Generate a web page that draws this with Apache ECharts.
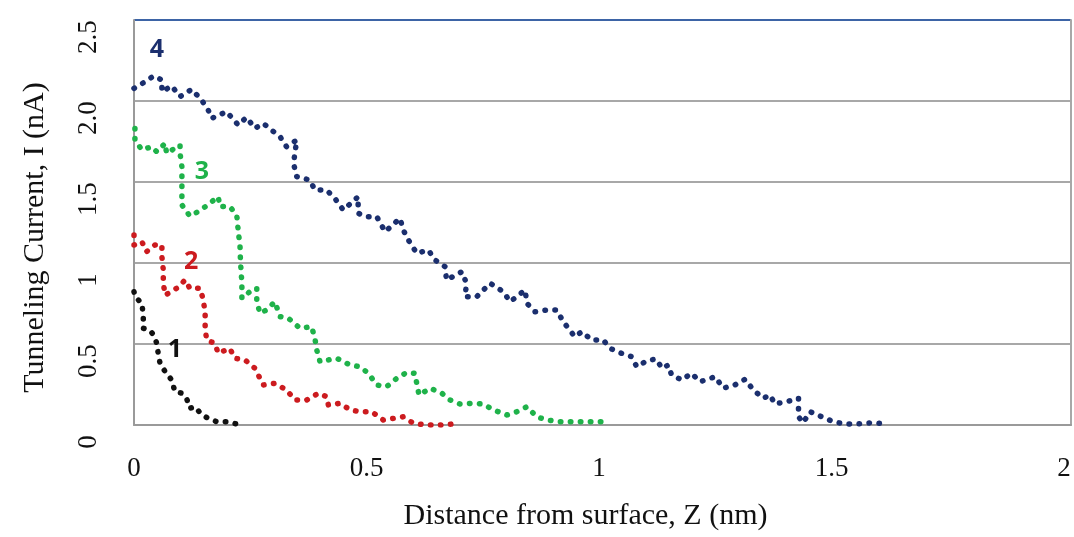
<!DOCTYPE html>
<html>
<head>
<meta charset="utf-8">
<script src="https://cdn.jsdelivr.net/npm/echarts@6/dist/echarts.min.js"></script>
<style>
  html, body { margin: 0; padding: 0; background: #fff; }
  #chart { width: 1074px; height: 537px; }
</style>
</head>
<body>
<div id="chart"></div>
<script>
// data: [Z (nm), I (nA)]
var curve1 = [[0.000, 0.823], [0.002, 0.792], [0.017, 0.751], [0.020, 0.669], [0.020, 0.597], [0.034, 0.586],
    [0.042, 0.556], [0.049, 0.504], [0.052, 0.443], [0.056, 0.381], [0.067, 0.329], [0.081, 0.278],
    [0.088, 0.206], [0.103, 0.196], [0.113, 0.165], [0.120, 0.103], [0.131, 0.113], [0.146, 0.062],
    [0.160, 0.041], [0.178, 0.020], [0.199, 0.020], [0.221, 0.006]];

var curve2 = [[0.000, 1.173], [0.000, 1.111], [0.017, 1.131], [0.027, 1.070], [0.045, 1.111], [0.060, 1.111],
    [0.060, 1.039], [0.063, 0.957], [0.063, 0.875], [0.067, 0.802], [0.092, 0.844], [0.110, 0.895],
    [0.120, 0.844], [0.142, 0.844], [0.149, 0.772], [0.153, 0.690], [0.153, 0.607], [0.156, 0.525],
    [0.174, 0.504], [0.181, 0.443], [0.206, 0.473], [0.217, 0.412], [0.239, 0.401], [0.260, 0.350],
    [0.278, 0.247], [0.303, 0.257], [0.328, 0.216], [0.346, 0.154], [0.371, 0.154], [0.396, 0.196],
    [0.414, 0.175], [0.418, 0.123], [0.443, 0.134], [0.465, 0.093], [0.486, 0.082], [0.511, 0.082],
    [0.536, 0.031], [0.558, 0.041], [0.579, 0.051], [0.601, 0.010], [0.629, 0.000], [0.658, 0.000],
    [0.684, 0.006]];

var curve3 = [[0.002, 1.831], [0.002, 1.759], [0.017, 1.698], [0.038, 1.718], [0.049, 1.687], [0.067, 1.739],
    [0.070, 1.677], [0.099, 1.728], [0.099, 1.677], [0.103, 1.594], [0.103, 1.512], [0.103, 1.430],
    [0.103, 1.358], [0.120, 1.290], [0.142, 1.323], [0.163, 1.369], [0.181, 1.409], [0.185, 1.348],
    [0.206, 1.348], [0.221, 1.296], [0.224, 1.204], [0.228, 1.101], [0.229, 1.008], [0.232, 0.875],
    [0.232, 0.782], [0.249, 0.823], [0.264, 0.844], [0.264, 0.761], [0.271, 0.690], [0.285, 0.710],
    [0.303, 0.761], [0.314, 0.669], [0.332, 0.659], [0.357, 0.597], [0.382, 0.607], [0.389, 0.535],
    [0.393, 0.463], [0.400, 0.391], [0.436, 0.412], [0.465, 0.370], [0.486, 0.360], [0.504, 0.319],
    [0.522, 0.247], [0.543, 0.236], [0.565, 0.288], [0.586, 0.324], [0.604, 0.319], [0.608, 0.257],
    [0.613, 0.185], [0.637, 0.227], [0.662, 0.196], [0.680, 0.154], [0.701, 0.130], [0.726, 0.134],
    [0.751, 0.130], [0.773, 0.093], [0.802, 0.062], [0.823, 0.082], [0.845, 0.113], [0.866, 0.051],
    [0.888, 0.031], [0.916, 0.020], [0.941, 0.020], [0.966, 0.020], [0.995, 0.020], [1.024, 0.020]];

var curve4 = [[0.000, 2.078], [0.024, 2.119], [0.042, 2.154], [0.060, 2.130], [0.060, 2.057], [0.081, 2.093],
    [0.099, 2.027], [0.124, 2.072], [0.142, 2.017], [0.158, 1.955], [0.167, 1.893], [0.199, 1.934],
    [0.224, 1.852], [0.242, 1.899], [0.260, 1.831], [0.278, 1.862], [0.300, 1.811], [0.314, 1.780],
    [0.328, 1.718], [0.350, 1.759], [0.343, 1.615], [0.350, 1.533], [0.378, 1.512], [0.389, 1.451],
    [0.414, 1.451], [0.432, 1.399], [0.450, 1.327], [0.482, 1.409], [0.482, 1.307], [0.500, 1.286],
    [0.522, 1.286], [0.540, 1.193], [0.572, 1.276], [0.579, 1.204], [0.590, 1.142], [0.608, 1.060],
    [0.633, 1.080], [0.647, 1.019], [0.669, 0.977], [0.672, 0.895], [0.705, 0.946], [0.715, 0.875],
    [0.712, 0.792], [0.737, 0.792], [0.766, 0.875], [0.794, 0.823], [0.809, 0.761], [0.841, 0.833],
    [0.845, 0.751], [0.862, 0.699], [0.888, 0.710], [0.909, 0.710], [0.923, 0.638], [0.948, 0.545],
    [0.963, 0.576], [0.984, 0.525], [1.009, 0.525], [1.024, 0.473], [1.045, 0.446], [1.070, 0.422],
    [1.081, 0.360], [1.106, 0.401], [1.124, 0.406], [1.135, 0.350], [1.149, 0.370], [1.156, 0.309],
    [1.178, 0.278], [1.199, 0.319], [1.217, 0.267], [1.250, 0.298], [1.267, 0.227], [1.292, 0.247],
    [1.314, 0.282], [1.332, 0.216], [1.353, 0.165], [1.368, 0.185], [1.378, 0.130], [1.404, 0.144],
    [1.429, 0.165], [1.429, 0.051], [1.439, 0.014], [1.454, 0.082], [1.479, 0.051], [1.504, 0.020],
    [1.529, 0.006], [1.554, 0.006], [1.586, 0.014], [1.622, 0.006]];

var curveNames = ["1", "2", "3", "4"];
var curveColors = ["#111111", "#cc1b1f", "#1fb24a", "#1b2f6e"];
// where the number of each curve is written, in data units
var curveLabelAt = [[0.088, 0.463], [0.123, 1.006], [0.146, 1.562], [0.049, 2.315]];

var yTickLabels = { "0": "0", "0.5": "0.5", "1": "1", "1.5": "1.5", "2": "2.0", "2.5": "2.5" };
var xTickLabels = { "0": "0", "0.5": "0.5", "1": "1", "1.5": "1.5", "2": "2" };

var serif = "Liberation Serif";

function makeSeries(data, i) {
    return {
        name: curveNames[i],
        type: "line",
        data: data,
        symbol: "none",
        animation: false,
        lineStyle: {
            color: curveColors[i],
            width: 5.5,
            type: [0.5, 9.5],
            cap: "round",
            join: "round"
        },
        markPoint: {
            symbol: "circle",
            symbolSize: 1,
            itemStyle: { color: "transparent" },
            label: {
                show: true,
                position: "inside",
                formatter: curveNames[i],
                color: curveColors[i],
                fontFamily: "Open Sans",
                fontWeight: "bold",
                fontSize: 25
            },
            data: [{ coord: curveLabelAt[i] }]
        }
    };
}

var chart = echarts.init(document.getElementById("chart"));

var option = {
    backgroundColor: "#fff",
    animation: false,
    grid: { left: 134, right: 3, top: 20, bottom: 112 },
    xAxis: {
        type: "value",
        min: 0,
        max: 2.015,
        interval: 0.5,
        name: "Distance from surface, Z (nm)",
        nameLocation: "middle",
        nameGap: 76,
        nameTextStyle: { fontFamily: serif, fontSize: 30, color: "#111", padding: [0, 34, 0, 0] },
        axisLine: { show: true, lineStyle: { color: "#9a9a9a", width: 2 } },
        axisTick: { show: false },
        splitLine: { show: false },
        axisLabel: {
            margin: 30,
            fontFamily: serif,
            fontSize: 27,
            color: "#111",
            formatter: function (v) {
                var k = String(Math.round(v * 1000) / 1000);
                return xTickLabels[k] !== undefined ? xTickLabels[k] : "";
            }
        }
    },
    yAxis: [{
        type: "value",
        min: 0,
        max: 2.5,
        interval: 0.5,
        name: "Tunneling Current, I (nA)",
        nameLocation: "middle",
        nameGap: 84,
        nameRotate: 90,
        nameTextStyle: { fontFamily: serif, fontSize: 30, color: "#111", padding: [0, 30, 0, 0] },
        axisLine: { show: true, lineStyle: { color: "#9a9a9a", width: 2 } },
        axisTick: { show: false },
        splitLine: {
            show: true,
            lineStyle: {
                color: ["#9a9a9a", "#a8a8a8", "#a8a8a8", "#a8a8a8", "#a8a8a8", "#3d64a6"],
                width: 2
            }
        },
        axisLabel: {
            rotate: 90,
            margin: 32,
            fontFamily: serif,
            fontSize: 27,
            color: "#111",
            padding: [0, 34, 0, 0],
            formatter: function (v) {
                var k = String(Math.round(v * 10) / 10);
                return yTickLabels[k] !== undefined ? yTickLabels[k] : "";
            }
        }
    }, {
        type: "value",
        position: "right",
        min: 0,
        max: 2.5,
        axisLine: { show: true, lineStyle: { color: "#a8a8a8", width: 2 } },
        axisTick: { show: false },
        axisLabel: { show: false },
        splitLine: { show: false }
    }],
    series: [curve1, curve2, curve3, curve4].map(makeSeries)
};

chart.setOption(option);
</script>
</body>
</html>
